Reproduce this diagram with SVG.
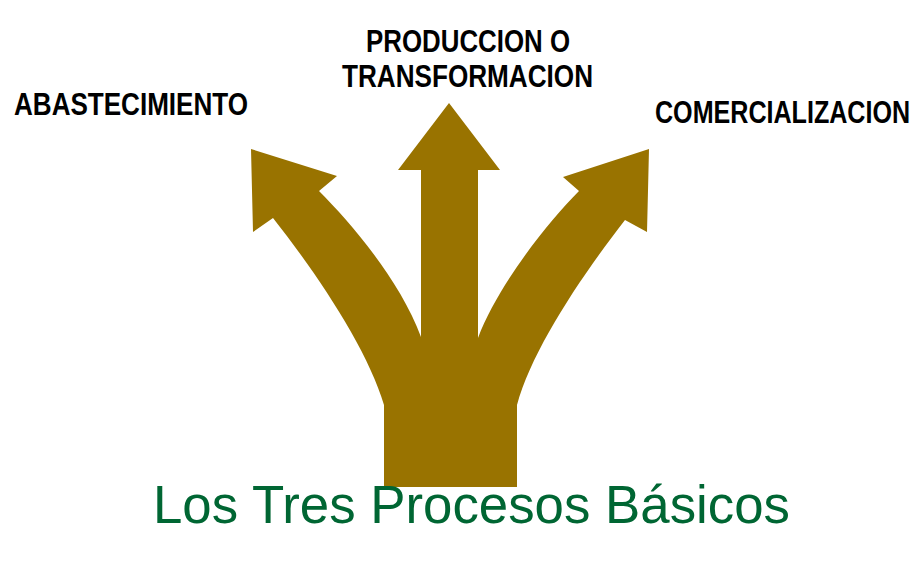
<svg xmlns="http://www.w3.org/2000/svg" width="924" height="568" viewBox="0 0 924 568">
<style>
.lbl{font-family:"Liberation Sans Narrow","Liberation Sans",Arial,sans-serif;font-weight:bold;font-size:31px;fill:#000}
.title{font-family:"Liberation Sans",Arial,sans-serif;font-size:53px;fill:#006633}
</style>
<rect width="924" height="568" fill="#fff"/>
<g id="connectors">
<path id="arrows" fill="#997300" d="M384,487 L384,405 C368,350 318,275 273,218 L253,232 L251,149 L337,176 L319,191 C350,222 400,280 421,337 L421,170 L398,170 L449,103 L500,170 L478,170 L478,338 C498,285 548,222 579,191 L563,177 L649,149 L647,232 L625,220 C580,278 532,350 517,405 L517,487 Z"/>
</g>
<g id="node-abastecimiento"><text class="lbl" x="14" y="115" textLength="234" lengthAdjust="spacingAndGlyphs">ABASTECIMIENTO</text></g>
<g id="node-produccion">
<text class="lbl" x="366" y="52" textLength="204" lengthAdjust="spacingAndGlyphs">PRODUCCION O</text>
<text class="lbl" x="342" y="87" textLength="251" lengthAdjust="spacingAndGlyphs">TRANSFORMACION</text>
</g>
<g id="node-comercializacion"><text class="lbl" transform="translate(655,123) scale(0.81,1)" x="0" y="0">COMERCIALIZACION</text></g>
<g id="title"><text class="title" x="153" y="523" textLength="637" lengthAdjust="spacingAndGlyphs">Los Tres Procesos Básicos</text></g>
</svg>
